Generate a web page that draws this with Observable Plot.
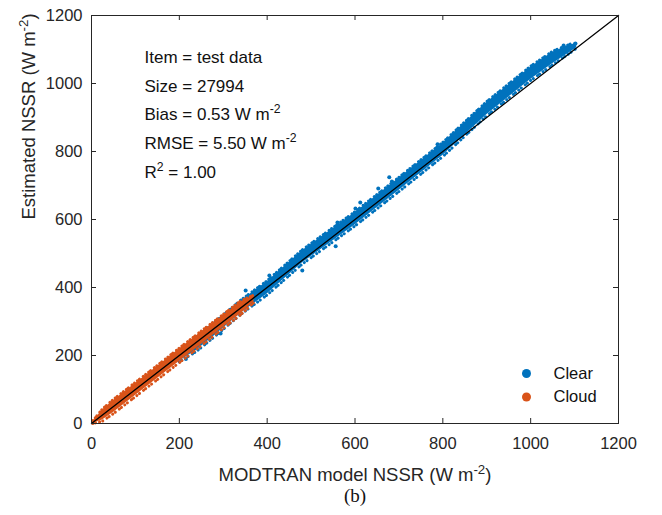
<!DOCTYPE html>
<html>
<head>
<meta charset="utf-8">
<script src="https://cdn.jsdelivr.net/npm/d3@7"></script>
<script src="https://cdn.jsdelivr.net/npm/@observablehq/plot@0.6"></script>
<style>
  html, body { margin: 0; padding: 0; background: #fff; }
  #chart { width: 662px; height: 515px; }
</style>
</head>
<body>
<div id="chart"></div>
<script>
// ---- Data ----
const xTicks = [0, 200, 400, 600, 800, 1000, 1200];
const yTicks = [0, 200, 400, 600, 800, 1000, 1200];

// 1:1 reference line
const diagX = [0, 1200];
const diagY = [0, 1200];

// Clear-sky point cloud: dense core and ragged outer edge
const clearX       = [200, 240, 280, 340, 400, 480, 600, 700, 800, 900, 1000, 1050, 1090, 1105];
const clearCoreLo  = [183, 216, 258, 324, 381, 472, 584, 685, 788, 908, 1012, 1058, 1092, 1105];
const clearCoreHi  = [203, 252, 294, 360, 417, 508, 620, 721, 824, 944, 1048, 1092, 1114, 1117];
const clearOuterLo = [181, 213, 255, 321, 378, 469, 581, 682, 785, 905, 1009, 1055, 1090, 1104];
const clearOuterHi = [205, 255, 297, 363, 420, 511, 623, 724, 827, 947, 1051, 1095, 1116, 1118];
// isolated clear points
const clearOutX = [678, 684, 653, 612, 601, 560, 788, 556, 1006, 1022, 1075, 1102, 929, 351, 405, 294, 215, 480];
const clearOutY = [724, 712, 691, 650, 632, 591, 821, 521, 1053, 1056, 1112, 1118, 962, 391, 435, 265, 190, 450];

// Cloudy point cloud: dense core and ragged outer edge
const cloudX       = [3, 25, 50, 100, 150, 200, 250, 300, 340, 370];
const cloudCoreLo  = [0, 10, 32, 82, 132, 182, 232, 283, 323, 358];
const cloudCoreHi  = [6, 40, 68, 118, 168, 219, 269, 318, 358, 376];
const cloudOuterLo = [0, 7, 29, 79, 129, 179, 229, 280, 320, 356];
const cloudOuterHi = [8, 43, 71, 121, 171, 222, 272, 321, 361, 378];

const annotLines = ["Item = test data", "Size = 27994", "Bias = 0.53 W m^{-2}", "RMSE = 5.50 W m^{-2}", "R^{2} = 1.00"];
const seriesNames = ["Clear", "Cloud"];
const seriesColors = ["#0072BD", "#D95319"];
const xLabel = "MODTRAN model NSSR (W m^{-2})";
const yLabel = "Estimated NSSR (W m^{-2})";
const caption = "(b)";

// ---- Build tables ----
const clearBand = clearX.map((x, i) => ({x, oLo: clearOuterLo[i], oHi: clearOuterHi[i], cLo: clearCoreLo[i], cHi: clearCoreHi[i]}));
const cloudBand = cloudX.map((x, i) => ({x, oLo: cloudOuterLo[i], oHi: cloudOuterHi[i], cLo: cloudCoreLo[i], cHi: cloudCoreHi[i]}));
const clearOut = clearOutX.map((x, i) => ({x, y: clearOutY[i]}));
const diag = diagX.map((x, i) => ({x, y: diagY[i]}));

const FONT = "'Liberation Sans', Arial, Helvetica, sans-serif";
const ink = "#262626";

function cloudMarks(band, color) {
  const speck = {x: "x", stroke: color, strokeWidth: 3, strokeLinecap: "round"};
  return [
    Plot.areaY(band, {x: "x", y1: "cLo", y2: "cHi", fill: color}),
    Plot.line(band, {...speck, y: "oLo", strokeDasharray: "0.1 2.6 0.1 4.1 0.1 3.2 0.1 5"}),
    Plot.line(band, {...speck, y: "oHi", strokeDasharray: "0.1 3.7 0.1 2.4 0.1 4.6 0.1 3"})
  ];
}

const marks = [
  ...cloudMarks(clearBand, seriesColors[0]),
  Plot.dot(clearOut, {x: "x", y: "y", r: 2, fill: seriesColors[0], stroke: "none"}),
  ...cloudMarks(cloudBand, seriesColors[1]),
  // 1:1 line
  Plot.line(diag, {x: "x", y: "y", stroke: "black", strokeWidth: 1.3}),
  // ticks (inward, all four sides)
  Plot.tickX(xTicks, {x: d => d, insetTop: 403, stroke: ink}),
  Plot.tickX(xTicks, {x: d => d, insetBottom: 403, stroke: ink}),
  Plot.tickY(yTicks, {y: d => d, insetRight: 522, stroke: ink}),
  Plot.tickY(yTicks, {y: d => d, insetLeft: 522, stroke: ink}),
  Plot.frame({stroke: ink}),
  Plot.axisX(xTicks, {anchor: "bottom", tickSize: 0, tickPadding: 14, label: null, tickFormat: d => String(d), fontSize: 16.5, fill: ink}),
  Plot.axisY(yTicks, {anchor: "left", tickSize: 0, tickPadding: 9, label: null, tickFormat: d => String(d), fontSize: 16.5, fill: ink}),
  // axis titles and caption
  Plot.text([xLabel], {frameAnchor: "bottom", dy: 52, lineAnchor: "middle", fontSize: 18.5, fill: ink}),
  Plot.text([yLabel], {frameAnchor: "left", dx: -62, rotate: -90, lineAnchor: "middle", fontSize: 18.5, fill: ink}),
  Plot.text([caption], {frameAnchor: "bottom", dy: 72, lineAnchor: "middle", fontSize: 19, fill: "#111", fontFamily: "'Liberation Serif', 'Times New Roman', serif"})
];

annotLines.forEach((t, i) => {
  marks.push(Plot.text([t], {frameAnchor: "top-left", dx: 53, dy: 42 + i * 28.75, textAnchor: "start", lineAnchor: "middle", fontSize: 17, fill: "#111"}));
});

seriesNames.forEach((name, i) => {
  marks.push(Plot.dot([name], {frameAnchor: "bottom-right", dx: -92, dy: -50 + i * 23.5, r: 4.5, fill: seriesColors[i], stroke: "none"}));
  marks.push(Plot.text([name], {frameAnchor: "bottom-right", dx: -65, dy: -50 + i * 23.5, textAnchor: "start", lineAnchor: "middle", fontSize: 16.5, fill: "#111"}));
});

const chart = Plot.plot({
  width: 662,
  height: 515,
  marginLeft: 91,
  marginRight: 44,
  marginTop: 15,
  marginBottom: 92,
  x: {domain: [0, 1200]},
  y: {domain: [0, 1200]},
  style: {fontFamily: FONT, fontSize: "16.5px", color: ink, background: "white"},
  marks
});

// superscripts written as ^{...}
chart.querySelectorAll("text").forEach(t => {
  const targets = t.querySelector("tspan") ? Array.from(t.querySelectorAll("tspan")) : [t];
  targets.forEach(el => {
    const s = el.textContent;
    if (!s.includes("^{")) return;
    const parts = s.split(/\^\{([^}]*)\}/);
    el.textContent = "";
    parts.forEach((p, i) => {
      if (!p) return;
      const ts = document.createElementNS("http://www.w3.org/2000/svg", "tspan");
      ts.textContent = p;
      if (i % 2 === 1) {
        ts.setAttribute("baseline-shift", "super");
        ts.setAttribute("font-size", "72%");
      }
      el.appendChild(ts);
    });
  });
});

document.getElementById("chart").appendChild(chart);
</script>
</body>
</html>
